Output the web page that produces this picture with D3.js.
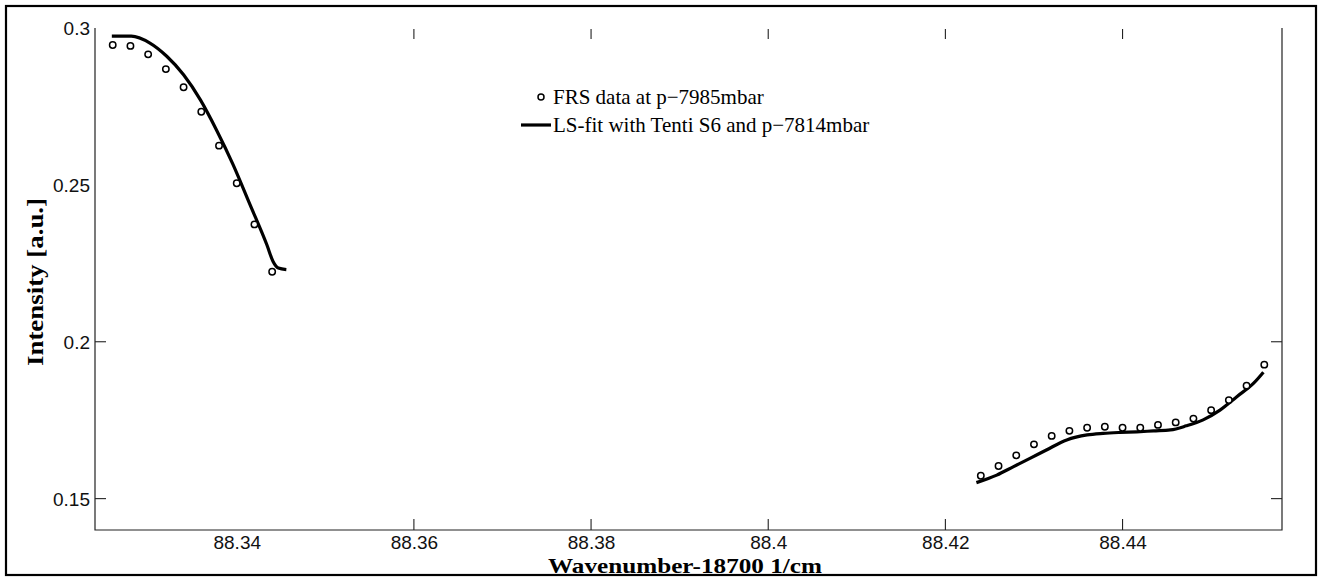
<!DOCTYPE html>
<html>
<head>
<meta charset="utf-8">
<script src="https://cdn.jsdelivr.net/npm/d3@7"></script>
<style>
  html, body { margin: 0; padding: 0; background: #fff; }
  svg { display: block; }
</style>
</head>
<body>
<svg id="chart" width="1319" height="577"></svg>
<script>
// ---- data ----
const dataXLeft  = [88.326, 88.328, 88.330, 88.332, 88.334, 88.336, 88.338, 88.340, 88.342, 88.344];
const dataYLeft  = [0.2946, 0.2943, 0.2916, 0.2869, 0.2811, 0.2733, 0.2625, 0.2505, 0.2374, 0.2223];
const dataXRight = [88.424, 88.426, 88.428, 88.430, 88.432, 88.434, 88.436, 88.438, 88.440,
                    88.442, 88.444, 88.446, 88.448, 88.450, 88.452, 88.454, 88.456];
const dataYRight = [0.1573, 0.1604, 0.1638, 0.1673, 0.1700, 0.1716, 0.1726, 0.1729, 0.1726,
                    0.1726, 0.1735, 0.1743, 0.1755, 0.1782, 0.1814, 0.1860, 0.1927];

const fitXLeft  = [88.3259, 88.3281, 88.3302, 88.3321, 88.3340, 88.3359, 88.3377, 88.3396, 88.3415,
                   88.3434, 88.3441, 88.3447, 88.3456];
const fitYLeft  = [0.2974, 0.2974, 0.2952, 0.2910, 0.2851, 0.2771, 0.2676, 0.2564, 0.2437,
                   0.2309, 0.2256, 0.2235, 0.2230];
const fitXRight = [88.4235, 88.4258, 88.4277, 88.4296, 88.4314, 88.4337, 88.4360, 88.4378, 88.4397,
                   88.4416, 88.4435, 88.4454, 88.4472, 88.4491, 88.4510, 88.4529, 88.4548, 88.4559];
const fitYRight = [0.1551, 0.1575, 0.1602, 0.1629, 0.1655, 0.1687, 0.1703, 0.1708, 0.1711,
                   0.1713, 0.1716, 0.1719, 0.1732, 0.1751, 0.1782, 0.1825, 0.1868, 0.1903];

const xTickLabels = [88.34, 88.36, 88.38, 88.40, 88.42, 88.44];
const yTickLabels = [0.15, 0.20, 0.25, 0.30];
const xTickMarks  = [88.36, 88.38, 88.40, 88.42, 88.44];   // marks visible in the reference
const yTickMarks  = [0.15, 0.20];

const seriesNames = ["FRS data at p\u22127985mbar", "LS-fit with Tenti S6 and p\u22127814mbar"];
const xTitle = "Wavenumber-18700 1/cm";
const yTitle = "Intensity [a.u.]";

// ---- layout ----
const svg = d3.select("#chart");
const L = 95, R = 1282, T = 28, B = 530;
const x = d3.scaleLinear().domain([88.324, 88.458]).range([L, R]);
const y = d3.scaleLinear().domain([0.14, 0.30]).range([B, T]);
const axisColor = "#222";

// outer frame
svg.append("rect").attr("x", 6).attr("y", 6).attr("width", 1310).attr("height", 569)
  .attr("fill", "#fff").attr("stroke", "#000").attr("stroke-width", 2.2);

// axis lines (left, bottom, right; no top line)
svg.append("path")
  .attr("d", `M${L},${T}V${B}H${R}V${T}`)
  .attr("fill", "none").attr("stroke", axisColor).attr("stroke-width", 1.2);

// tick marks (inward)
const tl = 11;
svg.append("g").selectAll("line").data(xTickMarks).join("line")
  .attr("x1", d => x(d)).attr("x2", d => x(d)).attr("y1", B).attr("y2", B - tl)
  .attr("stroke", axisColor).attr("stroke-width", 1.1);
svg.append("g").selectAll("line").data(xTickMarks).join("line")
  .attr("x1", d => x(d)).attr("x2", d => x(d)).attr("y1", T + 1).attr("y2", T + tl)
  .attr("stroke", axisColor).attr("stroke-width", 1.1);
svg.append("g").selectAll("line").data(yTickMarks).join("line")
  .attr("x1", L).attr("x2", L + tl).attr("y1", d => y(d)).attr("y2", d => y(d))
  .attr("stroke", axisColor).attr("stroke-width", 1.1);
svg.append("g").selectAll("line").data(yTickMarks).join("line")
  .attr("x1", R - tl).attr("x2", R).attr("y1", d => y(d)).attr("y2", d => y(d))
  .attr("stroke", axisColor).attr("stroke-width", 1.1);

// tick labels through d3 axes
const xAxis = svg.append("g").attr("transform", `translate(0,${B})`)
  .call(d3.axisBottom(x).tickValues(xTickLabels).tickSize(0).tickPadding(6)
        .tickFormat(d => String(+d.toFixed(2))));
const yAxis = svg.append("g").attr("transform", `translate(${L},0)`)
  .call(d3.axisLeft(y).tickValues(yTickLabels).tickSize(0).tickPadding(5)
        .tickFormat(d => String(+d.toFixed(2))));
[xAxis, yAxis].forEach(g => {
  g.select(".domain").remove();
  g.selectAll("text").attr("font-family", "'Liberation Sans', Arial, sans-serif")
    .attr("font-size", 19).attr("fill", "#111");
});
xAxis.selectAll("text").attr("dy", "0.71em").attr("y", 6);
yAxis.selectAll("text").attr("dy", "0.35em");

// axis titles
svg.append("text").attr("x", 685).attr("y", 572.5).attr("text-anchor", "middle")
  .attr("font-family", "'Liberation Serif', 'Times New Roman', serif")
  .attr("font-weight", "bold").attr("font-size", 22)
  .attr("textLength", 274).attr("lengthAdjust", "spacingAndGlyphs")
  .text(xTitle);
svg.append("text").attr("transform", "translate(43,282) rotate(-90)").attr("text-anchor", "middle")
  .attr("font-family", "'Liberation Serif', 'Times New Roman', serif")
  .attr("font-weight", "bold").attr("font-size", 23)
  .attr("textLength", 168).attr("lengthAdjust", "spacingAndGlyphs")
  .text(yTitle);

// fit lines
const line = d3.line().x(d => x(d[0])).y(d => y(d[1])).curve(d3.curveMonotoneX);
const fits = [d3.zip(fitXLeft, fitYLeft), d3.zip(fitXRight, fitYRight)];
svg.append("g").selectAll("path").data(fits).join("path")
  .attr("d", line).attr("fill", "none").attr("stroke", "#000")
  .attr("stroke-width", 3.2).attr("stroke-linejoin", "round").attr("stroke-linecap", "butt");

// data circles
const pts = d3.zip(dataXLeft, dataYLeft).concat(d3.zip(dataXRight, dataYRight));
svg.append("g").selectAll("circle").data(pts).join("circle")
  .attr("cx", d => x(d[0])).attr("cy", d => y(d[1])).attr("r", 3.2)
  .attr("fill", "#fff").attr("stroke", "#000").attr("stroke-width", 1.5);

// legend
const lg = svg.append("g");
const serif = "'Liberation Serif', 'Times New Roman', serif";
lg.append("circle").attr("cx", 541).attr("cy", 97).attr("r", 3)
  .attr("fill", "#fff").attr("stroke", "#000").attr("stroke-width", 1.5);
lg.append("text").attr("x", 553).attr("y", 104)
  .attr("font-family", serif).attr("font-size", 21)
  .text(seriesNames[0]);
lg.append("line").attr("x1", 521).attr("x2", 551).attr("y1", 125).attr("y2", 125)
  .attr("stroke", "#000").attr("stroke-width", 3.2);
lg.append("text").attr("x", 553).attr("y", 132)
  .attr("font-family", serif).attr("font-size", 21)
  .text(seriesNames[1]);
</script>
</body>
</html>
